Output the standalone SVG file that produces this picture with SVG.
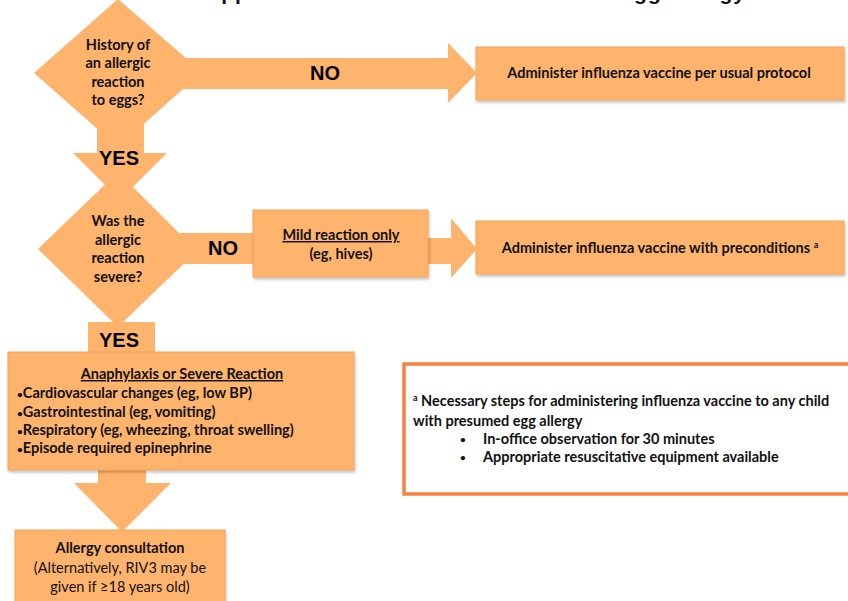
<svg xmlns="http://www.w3.org/2000/svg" width="848" height="601" viewBox="0 0 848 601">
<style>
.f{fill:#FFB46E}
.bx{fill:#FFB46E;stroke:#F6A25A;stroke-width:1}
.t{font-family:Lato,"Liberation Sans",sans-serif;font-weight:bold;font-size:14.5px;fill:#111;text-anchor:middle}
.n{font-weight:normal}
.l{text-anchor:start}
.b{font-size:10px}
.yn{font-family:"Liberation Sans",Arial,sans-serif;font-weight:bold;font-size:20px;fill:#000;text-anchor:middle}
.u{text-decoration:underline}
</style>
<defs>
<filter id="sh" x="-5%" y="-10%" width="110%" height="130%">
<feDropShadow dx="1" dy="2" stdDeviation="1.5" flood-color="#000" flood-opacity="0.25"/>
</filter>
</defs>
<rect width="848" height="601" fill="#fff"/>
<text x="475" y="0" font-family="Liberation Sans,Arial,sans-serif" font-weight="bold" font-size="21" text-anchor="middle" fill="#111" textLength="540">Approach to Children With Presumed Egg Allergy</text>
<g id="connectors">
<polygon class="f" points="180,58 448,58 448,43 477,73 448,103 448,89 180,89"/>
<polygon class="f" points="97,120 144,120 144,153 167,153 120,200 73,153 97,153"/>
<rect class="f" x="180" y="233" width="75" height="31"/>
<polygon class="f" points="426,238 451,238 451,218 477,249 451,278 451,264 426,264"/>
<rect class="f" x="88" y="322" width="67" height="32"/>
<polygon class="f" points="98,468 146,468 146,483 171,483 122,532 74,483 98,483"/>
</g>
<g id="labels">
<text class="yn" x="325" y="80">NO</text>
<text class="yn" x="119" y="165">YES</text>
<text class="yn" x="223" y="255">NO</text>
<text class="yn" x="119" y="347">YES</text>
</g>
<g id="q1">
<polygon class="f" points="118,-1 202,72 118,147 34,73"/>
<text class="t" x="118" y="50">History of</text>
<text class="t" x="118" y="68">an allergic</text>
<text class="t" x="118" y="87">reaction</text>
<text class="t" x="118" y="105">to eggs?</text>
</g>
<g id="q2">
<polygon class="f" points="118,172 197,251 118,327 38,249"/>
<text class="t" x="118" y="226">Was the</text>
<text class="t" x="118" y="245">allergic</text>
<text class="t" x="118" y="263">reaction</text>
<text class="t" x="118" y="282">severe?</text>
</g>
<g id="usual">
<rect class="bx" x="476" y="47" width="368" height="53" filter="url(#sh)"/>
<text class="t" x="659" y="78">Administer influenza vaccine per usual protocol</text>
</g>
<g id="mild">
<rect class="bx" x="253" y="210" width="175" height="67" filter="url(#sh)"/>
<text class="t u" x="341" y="240">Mild reaction only</text>
<text class="t" x="341" y="259">(eg, hives)</text>
</g>
<g id="precond">
<rect class="bx" x="476" y="221" width="368" height="53" filter="url(#sh)"/>
<text class="t" x="660" y="253">Administer influenza vaccine with preconditions <tspan font-size="9" dy="-5">a</tspan></text>
</g>
<g id="severe">
<rect class="bx" x="8" y="352" width="346" height="118" filter="url(#sh)"/>
<text class="t u" x="182" y="379">Anaphylaxis or Severe Reaction</text>
<text class="t l" x="17" y="398"><tspan class="b">•</tspan>Cardiovascular changes (eg, low BP)</text>
<text class="t l" x="17" y="417"><tspan class="b">•</tspan>Gastrointestinal (eg, vomiting)</text>
<text class="t l" x="17" y="435"><tspan class="b">•</tspan>Respiratory (eg, wheezing, throat swelling)</text>
<text class="t l" x="17" y="453"><tspan class="b">•</tspan>Episode required epinephrine</text>
</g>
<g id="consult">
<rect class="bx" x="15" y="530" width="210" height="80" filter="url(#sh)"/>
<text class="t" x="120" y="553">Allergy consultation</text>
<text class="t n" x="120" y="573">(Alternatively,  RIV3 may be</text>
<text class="t n" x="120" y="592">given if ≥18 years old)</text>
</g>
<g id="footnote">
<rect x="404" y="364" width="450" height="130" fill="#fff" stroke="#F7813E" stroke-width="3.5"/>
<text class="t l" x="413" y="406"><tspan font-size="9" dy="-5">a</tspan><tspan dy="5"> Necessary steps for administering influenza vaccine to any child</tspan></text>
<text class="t l" x="413" y="426">with presumed egg allergy</text>
<text class="t l b" x="460" y="443">•</text>
<text class="t l" x="483" y="444">In-office observation for 30 minutes</text>
<text class="t l b" x="460" y="461">•</text>
<text class="t l" x="483" y="462">Appropriate resuscitative equipment available</text>
</g>
</svg>
